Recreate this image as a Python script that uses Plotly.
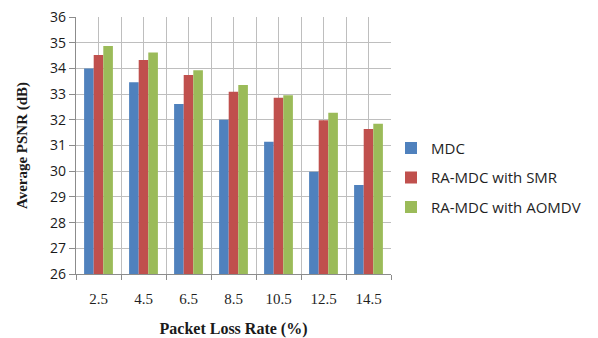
import plotly.graph_objects as go

categories = ["2.5", "4.5", "6.5", "8.5", "10.5", "12.5", "14.5"]
mdc = [34.0, 33.46, 32.61, 32.0, 31.15, 29.98, 29.46]
ra_smr = [34.52, 34.33, 33.74, 33.09, 32.86, 31.98, 31.64]
ra_aomdv = [34.87, 34.62, 33.93, 33.35, 32.96, 32.27, 31.85]
series_names = ["MDC", "RA-MDC with SMR", "RA-MDC with AOMDV"]
colors = ["#4F81BD", "#C0504D", "#9BBB59"]
y_ticks = list(range(26, 37))

pos = list(range(len(categories)))
boundaries = [p - 0.5 for p in pos] + [pos[-1] + 0.5]

fig = go.Figure()
for name, vals, col in zip(series_names, [mdc, ra_smr, ra_aomdv], colors):
    fig.add_trace(go.Bar(x=pos, y=vals, name=name, marker_color=col,
                         marker_line_width=0, legendgroup=name))

fig.update_layout(
    width=598, height=338,
    margin=dict(l=76, r=205, t=17, b=64),
    paper_bgcolor="white", plot_bgcolor="white",
    barmode="group", bargap=0.36, bargroupgap=0,
    showlegend=True,
    legend=dict(x=1.0, xanchor="left", y=0.375, yanchor="middle",
                font=dict(family="Open Sans", size=15, color="#1f1f1f"),
                tracegroupgap=7, bgcolor="rgba(0,0,0,0)"),
)
fig.update_xaxes(
    automargin=False,
    range=[-0.5, len(categories) - 0.5],
    tickmode="array", tickvals=pos, ticktext=categories,
    ticks="outside", ticklen=11, tickcolor="rgba(0,0,0,0)",
    tickfont=dict(family="Liberation Serif", size=15, color="#1f1f1f"),
    showgrid=True, gridcolor="#BEBEBE", gridwidth=1.4,
    showline=True, linecolor="#8C8C8C", linewidth=1.4,
    minor=dict(tickmode="array", tickvals=boundaries, showgrid=True,
               gridcolor="#BEBEBE", gridwidth=1.4,
               ticks="outside", ticklen=5, tickcolor="#8C8C8C", tickwidth=1.4),
    title=dict(text="<b>Packet Loss Rate (%)</b>", standoff=22,
               font=dict(family="Liberation Serif", size=16, color="#1a1a1a")),
    zeroline=False,
)
fig.update_yaxes(
    automargin=False,
    range=[26, 36], tickmode="array", tickvals=y_ticks,
    ticks="outside", ticklen=6, tickcolor="#8C8C8C", tickwidth=1.4,
    tickfont=dict(family="Open Sans", size=14, color="#1a1a1a"),
    showgrid=True, gridcolor="#BEBEBE", gridwidth=1.4,
    showline=True, linecolor="#8C8C8C", linewidth=1.4,
    title=dict(text="<b>Average PSNR (dB)</b>", standoff=18,
               font=dict(family="Liberation Serif", size=15, color="#1a1a1a")),
    zeroline=False,
)

fig.write_html("out.html")
